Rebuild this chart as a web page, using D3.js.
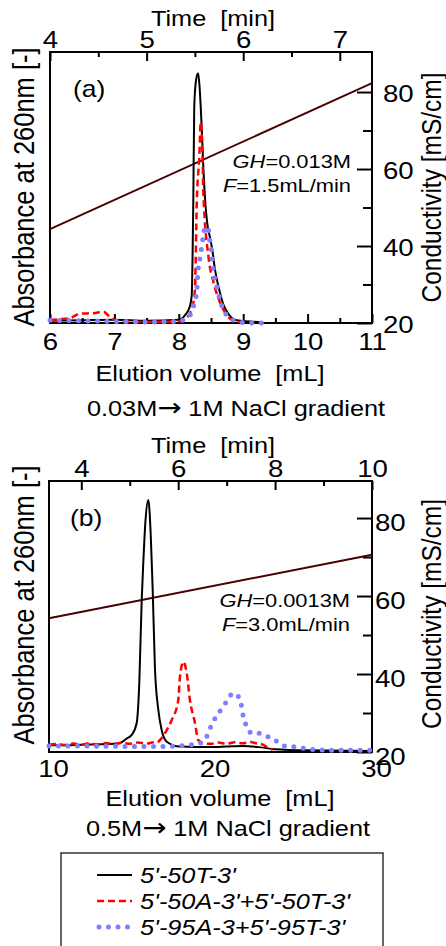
<!DOCTYPE html>
<html><head><meta charset="utf-8">
<script src="https://cdn.jsdelivr.net/npm/d3@7"></script>
<style>body{margin:0;background:#fff}svg{display:block}</style>
</head><body>
<svg id="c" width="446" height="946"></svg>
<script>
// ---------------- DATA ----------------
const seriesNames = ["5'-50T-3'", "5'-50A-3'+5'-50T-3'", "5'-95A-3+5'-95T-3'"];
const gradientA = ["0.03M", "\u2192", " 1M NaCl gradient"];
const gradientB = ["0.5M", "\u2192", " 1M NaCl gradient"];
const ghA = "0.013M", flowTextA = "1.5mL/min";
const ghB = "0.0013M", flowTextB = "3.0mL/min";
const flowA = 1.5, flowB = 3.0;

const timeTicksA = [4, 5, 6, 7], timeMinorA = [4.5, 5.5, 6.5];
const volTicksA = [6, 7, 8, 9, 10, 11], volMinorA = [6.5, 7.5, 8.5, 9.5, 10.5];
const timeTicksB = [4, 6, 8, 10], timeMinorB = [5, 7, 9];
const volTicksB = [10, 20, 30];
const condTicks = [20, 40, 60, 80], condMinor = [30, 50, 70];

// conductivity [mS/cm] vs elution volume [mL]
const condA = [[6, 44.4], [11, 82.3]];
const condB = [[10, 54.3], [30, 70.6]];

// absorbance (relative) vs elution volume [mL] -- panel (a)
const blackA = [[6.0,0.008],[6.5,0.01],[7.0,0.012],[7.5,0.008],[8.0,0.012],[8.1,0.03],[8.17,0.06],[8.2,0.1],
  [8.225,0.45],[8.24,0.8],[8.27,0.9],[8.30,0.922],[8.32,0.88],[8.35,0.75],[8.38,0.58],[8.41,0.45],[8.44,0.37],
  [8.48,0.32],[8.52,0.27],[8.56,0.2],[8.62,0.13],[8.69,0.07],[8.78,0.03],[8.9,0.01],[9.3,0.003]];
const redA = [[6.0,0.012],[6.2,0.015],[6.31,0.018],[6.47,0.035],[6.67,0.036],[6.83,0.042],[6.93,0.022],[7.09,0.006],
  [7.5,0.004],[8.0,0.006],[8.1,0.015],[8.2,0.05],[8.25,0.12],[8.28,0.45],[8.32,0.62],[8.34,0.742],[8.37,0.6],
  [8.38,0.49],[8.46,0.245],[8.54,0.15],[8.67,0.06],[8.8,0.015],[8.9,0.005],[9.0,0.003]];
const blueA = [[6.0,0.01],[6.5,0.008],[7.0,0.006],[7.5,0.004],[8.0,0.006],[8.1,0.015],[8.2,0.04],[8.225,0.06],
  [8.28,0.12],[8.30,0.2],[8.33,0.24],[8.355,0.28],[8.38,0.32],[8.41,0.355],[8.46,0.343],[8.48,0.306],[8.51,0.26],
  [8.535,0.195],[8.59,0.134],[8.64,0.085],[8.74,0.03],[8.92,0.005],[9.1,0.0],[9.3,0.0]];

// panel (b)
const blackB = [[10,0.025],[11,0.025],[12,0.027],[13,0.028],[14,0.03],[14.4,0.033],[14.81,0.05],[15.12,0.063],
  [15.43,0.107],[15.59,0.255],[15.74,0.56],[15.84,0.7],[15.97,0.85],[16.15,0.93],[16.3,0.8],[16.42,0.6],
  [16.56,0.31],[16.77,0.155],[16.98,0.08],[17.29,0.038],[18.11,0.02],[20,0.018],[21,0.02],[22,0.022],
  [23,0.018],[24,0.01],[26,0.006],[30,0.004]];
const redB = [[10,0.028],[10.5,0.03],[11,0.026],[11.5,0.031],[12,0.027],[12.5,0.032],[13,0.028],[13.5,0.033],
  [14,0.029],[14.5,0.034],[15,0.03],[15.5,0.035],[16,0.031],[16.5,0.036],[16.67,0.035],[16.98,0.052],
  [17.29,0.081],[17.6,0.118],[18.0,0.19],[18.11,0.278],[18.32,0.333],[18.53,0.29],[18.73,0.19],[19.04,0.107],
  [19.24,0.044],[19.55,0.033],[20,0.03],[20.5,0.035],[21,0.03],[21.5,0.036],[22,0.032],[22.5,0.037],
  [22.76,0.033],[23.2,0.028],[23.6,0.015],[23.87,0.008]];
const blueB = [[10,0.022],[12,0.022],[14,0.021],[16,0.02],[17,0.02],[18,0.022],[18.73,0.026],[19.35,0.032],
  [19.76,0.056],[19.97,0.087],[20.28,0.124],[20.63,0.155],[21.0,0.186],[21.41,0.217],[21.72,0.205],
  [21.93,0.167],[22.03,0.13],[22.24,0.096],[22.55,0.069],[23.07,0.069],[23.58,0.056],[23.99,0.044],
  [24.51,0.023],[25.03,0.02],[26.6,0.008],[28,0.006],[30,0.006]];

// ---------------- DRAW ----------------
const FONT = "'Liberation Sans', Arial, Helvetica, sans-serif";
const SX = 1.15;
const svg = d3.select("#c");
const COL = { black: "#000", red: "#ff0000", blue: "#8080ff", cond: "#4a0000" };

function label(x, y, parts, size, anchor, rotate) {
  const t = svg.append("text")
    .attr("transform", `translate(${x},${y}) scale(${SX},1)` + (rotate ? ` rotate(${rotate})` : ""))
    .attr("font-family", FONT).attr("font-size", size).attr("text-anchor", anchor)
    .attr("fill", "#000").attr("style", "white-space:pre");
  parts.forEach(p => {
    const s = t.append("tspan").text(p[0]);
    if (p[1]) s.attr("font-style", "italic");
    if (p[2]) s.attr("font-family", p[2]);
    if (p[3]) s.attr("font-size", p[3]);
  });
  return t;
}

function styleAxis(sel, fs, tx, ty, anchor) {
  sel.select(".domain").remove();
  sel.selectAll("line").attr("stroke", "#000").attr("stroke-width", 2);
  sel.selectAll("text").attr("x", null).attr("y", null).attr("dy", null)
    .attr("transform", `translate(${tx},${ty}) scale(${SX},1)`)
    .attr("font-size", fs).attr("font-family", FONT).attr("fill", "#000");
  if (anchor) sel.selectAll("text").attr("text-anchor", anchor);
}

function drawPanel(c) {
  const g = svg.append("g");
  const x = d3.scaleLinear().domain(c.vDomain).range([c.L, c.R]);
  const xt = d3.scaleLinear().domain(c.vDomain.map(v => v / c.flow)).range([c.L, c.R]);
  const ya = d3.scaleLinear().domain([0, 1]).range([c.B, c.T]);
  const yc = d3.scaleLinear().domain(c.cDomain).range([c.B, c.T]);

  // top time axis
  const tMaj = g.append("g").attr("transform", `translate(0,${c.T})`)
    .call(d3.axisTop(xt).tickValues(c.tMajor).tickSizeInner(-9).tickSizeOuter(0).tickFormat(d3.format("d")));
  styleAxis(tMaj, 24, 0, -4);
  const tMin = g.append("g").attr("transform", `translate(0,${c.T})`)
    .call(d3.axisTop(xt).tickValues(c.tMinor).tickSizeInner(-5).tickSizeOuter(0).tickFormat(""));
  styleAxis(tMin, 24, 0, 0);

  // bottom volume axis
  const bMaj = g.append("g").attr("transform", `translate(0,${c.B})`)
    .call(d3.axisBottom(x).tickValues(c.vMajor).tickSizeInner(c.bTick).tickSizeOuter(0).tickFormat(d3.format("d")));
  styleAxis(bMaj, 24, c.bLabDx, c.bLabDy);
  if (c.vMinor.length) {
    const bMin = g.append("g").attr("transform", `translate(0,${c.B})`)
      .call(d3.axisBottom(x).tickValues(c.vMinor).tickSizeInner(-5).tickSizeOuter(0).tickFormat(""));
    styleAxis(bMin, 24, 0, 0);
  }

  // right conductivity axis
  const rMaj = g.append("g").attr("transform", `translate(${c.R},0)`)
    .call(d3.axisRight(yc).tickValues(condTicks).tickSizeInner(-15).tickSizeOuter(0).tickFormat(d3.format("d")));
  styleAxis(rMaj, 24, c.rLabDx, c.rLabDy, "start");
  const rMin = g.append("g").attr("transform", `translate(${c.R},0)`)
    .call(d3.axisRight(yc).tickValues(condMinor).tickSizeInner(-9).tickSizeOuter(0).tickFormat(""));
  styleAxis(rMin, 24, 0, 0);

  // frame
  g.append("rect").attr("x", c.L).attr("y", c.T).attr("width", c.R - c.L).attr("height", c.B - c.T)
    .attr("fill", "none").attr("stroke", "#000").attr("stroke-width", 2);

  // conductivity line
  const cl = d3.line().x(d => x(d[0])).y(d => yc(d[1]));
  g.append("path").datum(c.cond).attr("d", cl).attr("fill", "none").attr("stroke", COL.cond).attr("stroke-width", 2);

  // absorbance curves
  const al = d3.line().x(d => x(d[0])).y(d => ya(d[1])).curve(d3.curveMonotoneX);
  g.append("path").datum(c.black).attr("d", al).attr("fill", "none").attr("stroke", COL.black).attr("stroke-width", 2);
  g.append("path").datum(c.red).attr("d", al).attr("fill", "none").attr("stroke", COL.red)
    .attr("stroke-width", 2.5).attr("stroke-dasharray", "7,4");
  g.append("path").datum(c.blue).attr("d", al).attr("fill", "none").attr("stroke", COL.blue)
    .attr("stroke-width", 5).attr("stroke-linecap", "round").attr("stroke-dasharray", "0,9.5");

  // texts
  label(c.timeX, c.timeY, [["Time  [min]"]], 22, "middle");
  label(c.panX, c.panY, [[c.panel]], 23, "start");
  label(c.ghX, c.ghY, [["GH", true], ["=" + c.gh]], 19, "end");
  label(c.ghX, c.ghY + 24, [["F", true], ["=" + c.fl]], 19, "end");
  label(c.elX, c.elY, [["Elution volume  [mL]"]], 22, "middle");
  label(c.grX, c.grY, [[c.grad[0]], [c.grad[1], false, "'DejaVu Sans'", 25], [c.grad[2]]], 22, "middle");
  label(34, c.absY, [["Absorbance at 260nm [-]"]], 25.5, "middle", -90);
  label(441, c.conY, [["Conductivity [mS/cm]"]], 24.5, "middle", -90);
}

drawPanel({
  L: 50, R: 372, T: 52, B: 323, vDomain: [6, 11], flow: flowA, cDomain: [20, 90.4],
  tMajor: timeTicksA, tMinor: timeMinorA, vMajor: volTicksA, vMinor: volMinorA, bTick: -9,
  bLabDx: 0, bLabDy: 27, rLabDx: 11, rLabDy: 9,
  cond: condA, black: blackA, red: redA, blue: blueA,
  timeX: 213, timeY: 26, panel: "(a)", panX: 73, panY: 97, gh: ghA, fl: flowTextA, ghX: 351, ghY: 168,
  elX: 210, elY: 381, grad: gradientA, grX: 236, grY: 416, absY: 187, conY: 187.5
});
drawPanel({
  L: 49, R: 372, T: 481, B: 752, vDomain: [10, 30], flow: flowB, cDomain: [20, 89.5],
  tMajor: timeTicksB, tMinor: timeMinorB, vMajor: volTicksB, vMinor: [], bTick: 0,
  bLabDx: 4, bLabDy: 25, rLabDx: 3, rLabDy: 12,
  cond: condB, black: blackB, red: redB, blue: blueB,
  timeX: 213, timeY: 453, panel: "(b)", panX: 70, panY: 526, gh: ghB, fl: flowTextB, ghX: 350, ghY: 607,
  elX: 220, elY: 806, grad: gradientB, grX: 228, grY: 836, absY: 605, conY: 614
});

// legend
const lg = svg.append("g");
lg.append("rect").attr("x", 61).attr("y", 853).attr("width", 322).attr("height", 130)
  .attr("fill", "none").attr("stroke", "#333").attr("stroke-width", 1.5);
const legStyles = [
  { c: COL.black, w: 2, dash: null, cap: "butt" },
  { c: COL.red, w: 2.5, dash: "7,4", cap: "butt" },
  { c: COL.blue, w: 5, dash: "0,9.5", cap: "round" }
];
seriesNames.forEach((n, i) => {
  const y = 875 + i * 26;
  const st = legStyles[i];
  lg.append("line").attr("x1", st.cap === "round" ? 99 : 97).attr("x2", 132).attr("y1", y).attr("y2", y)
    .attr("stroke", st.c).attr("stroke-width", st.w).attr("stroke-dasharray", st.dash).attr("stroke-linecap", st.cap);
  label(140, y + 8, [[n, true]], 22, "start");
});
</script>
</body></html>
